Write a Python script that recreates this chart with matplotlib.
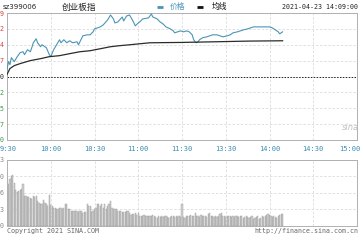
import matplotlib.pyplot as plt
from matplotlib.lines import Line2D
from matplotlib.transforms import ScaledTranslation

# minute index on the x axis: 0 = 09:30, 120 = 11:30 / 13:00, 240 = 15:00
price_min = [0, 1, 2, 3, 5, 7, 9, 11, 12, 14, 16, 17, 18, 20, 21, 23, 24, 27, 29, 30,
             32, 34, 36, 37, 39, 41, 43, 45, 48, 49, 50, 52, 55, 57, 59, 60, 62, 64, 66, 69,
             71, 73, 74, 76, 79, 80, 82, 84, 86, 88, 90, 91, 93, 97, 99, 100, 103, 105, 107, 109,
             112, 114, 115, 117, 119, 121, 123, 125, 127, 128, 129, 130, 131, 132, 134, 137, 139, 141, 144, 146,
             148, 151, 153, 155, 158, 160, 162, 165, 167, 169, 171, 180, 182, 184, 186, 187, 188, 189]
price_val = [2888.9, 2900.8, 2896.3, 2906.7, 2900.8, 2908.2, 2914.2, 2915.6, 2911.2, 2918.6,
             2915.6, 2921.6, 2929.0, 2935.0, 2929.0, 2923.1, 2926.0, 2921.6, 2911.2, 2908.2,
             2918.6, 2926.0, 2933.5, 2929.0, 2933.5, 2929.0, 2932.0, 2929.0, 2930.5, 2926.0,
             2930.5, 2939.4, 2940.9, 2940.9, 2945.4, 2949.8, 2951.3, 2952.8, 2955.8, 2963.2,
             2970.6, 2964.7, 2958.7, 2960.2, 2967.6, 2961.7, 2969.1, 2970.6, 2963.2, 2954.3,
             2958.7, 2960.2, 2964.7, 2966.2, 2972.1, 2967.6, 2964.7, 2960.2, 2957.2, 2952.8,
             2949.8, 2946.8, 2943.9, 2945.4, 2946.8, 2945.4, 2946.8, 2945.4, 2940.9, 2933.5,
             2930.5, 2929.0, 2930.5, 2933.5, 2936.4, 2937.9, 2939.4, 2940.9, 2940.9, 2939.4,
             2937.9, 2939.4, 2940.9, 2943.9, 2945.4, 2946.8, 2948.3, 2949.8, 2951.3, 2952.8,
             2952.8, 2952.8, 2951.3, 2948.3, 2945.4, 2942.4, 2943.9, 2945.4]

avg_min = [0, 2, 5, 9, 16, 23, 29, 36, 43, 50, 57, 64, 71, 77, 84, 91, 98, 119, 143, 165, 189]
avg_val = [2881.5, 2890.4, 2894.8, 2897.8, 2902.3, 2905.2, 2908.2, 2909.7, 2912.7, 2915.6,
           2917.1, 2920.1, 2923.1, 2924.6, 2926.0, 2927.5, 2929.0, 2929.5, 2930.5, 2931.5, 2932.0]

vol_am = [78, 84, 95, 100, 102, 87, 72, 68, 70, 72, 74, 84, 60, 59, 58, 57, 55, 53, 60, 58,
          60, 50, 46, 43, 43, 52, 46, 43, 40, 61, 42, 40, 36, 36, 34, 34, 36, 35, 33, 36,
          43, 43, 33, 33, 29, 30, 29, 29, 29, 27, 29, 29, 26, 28, 27, 43, 40, 40, 27, 29,
          33, 36, 43, 43, 40, 43, 36, 43, 33, 40, 44, 50, 36, 34, 33, 34, 29, 29, 29, 28,
          27, 27, 29, 29, 26, 22, 23, 24, 26, 22, 26, 19, 20, 20, 21, 20, 20, 20, 19, 20,
          22, 19, 18, 16, 19, 18, 20, 18, 19, 20, 18, 16, 18, 19, 20, 18, 19, 18, 19, 18]
vol_pm = [43, 18, 16, 20, 19, 20, 22, 19, 20, 26, 19, 20, 18, 22, 20, 19, 20, 18, 24, 25,
          19, 19, 18, 19, 18, 20, 24, 26, 20, 19, 18, 20, 19, 20, 18, 19, 18, 20, 19, 18,
          20, 19, 16, 18, 20, 18, 16, 18, 19, 13, 16, 18, 20, 14, 16, 19, 18, 20, 22, 24,
          22, 19, 18, 20, 17, 16, 19, 21, 23, 24]

prev_close = 2878.50
price_step = 23.772
# only the last digit of each price label is inside the picture
price_labels = ["9", "2", "4", "7", "0", "2", "5", "7", "0"]
time_labels = ["9:30", "10:00", "10:30", "11:00", "11:30", "13:30", "14:00", "14:30", "15:00"]
vol_top = 133
vol_labels = ["3", "0", "6", "3", "0"]

BLUE = "#4a95b5"
GRID = "#dcdcdc"
FRAME = "#b0b0b0"
MONO = "DejaVu Sans Mono"
CJK = ["Noto Sans CJK SC", "DejaVu Sans"]

fig = plt.figure(figsize=(3.6, 2.4), dpi=100)
W, H = 360.0, 240.0
ax = fig.add_axes([7 / W, 1 - 140 / H, 350 / W, 127 / H])
axv = fig.add_axes([7 / W, 1 - 225.5 / H, 350 / W, 65.5 / H])

xt = list(range(0, 241, 30))

# price panel
ax.plot(price_min, price_val, color=BLUE, lw=0.8, zorder=3)
ax.plot(avg_min, avg_val, color="#2b2b2b", lw=0.9, zorder=3)
ax.axhline(prev_close, color="#222222", lw=0.7, ls=(0, (1.5, 1.5)), zorder=2)
ax.set_xlim(0, 240)
ax.set_ylim(prev_close - 4 * price_step, prev_close + 4 * price_step)
yt = [prev_close + k * price_step for k in range(4, -5, -1)]
ax.set_yticks(yt)
ax.set_yticklabels(price_labels, fontsize=4.8, family=MONO)
for i, lab in enumerate(ax.get_yticklabels()):
    lab.set_color("#d9463e" if i < 4 else ("#222222" if i == 4 else "#3f9a4a"))
ax.set_xticks(xt)
ax.set_xticklabels(time_labels, fontsize=5, family=MONO, color="#3a8db0")
ax.tick_params(axis="y", length=0, pad=2.2)
ax.tick_params(axis="x", length=0, pad=4)
xl = ax.get_xticklabels()
xl[0].set_ha("left")
xl[0].set_transform(xl[0].get_transform() + ScaledTranslation(-0.07, 0, fig.dpi_scale_trans))
xl[-1].set_ha("right")
xl[-1].set_transform(xl[-1].get_transform() + ScaledTranslation(0.03, 0, fig.dpi_scale_trans))
ax.grid(True, color=GRID, lw=0.6, ls=(0, (3, 2)))
for s in ax.spines.values():
    s.set_color(FRAME)
    s.set_linewidth(0.7)

# volume panel
axv.bar(range(len(vol_am)), vol_am, width=0.85, color="#d0d0d0", edgecolor="#9c9c9c", linewidth=0.3)
axv.bar(range(120, 120 + len(vol_pm)), vol_pm, width=0.85, color="#d0d0d0", edgecolor="#9c9c9c", linewidth=0.3)
axv.set_xlim(0, 240)
axv.set_ylim(0, vol_top)
axv.set_yticks([vol_top * k / 4 for k in range(4, -1, -1)])
axv.set_yticklabels(vol_labels, fontsize=4.8, family=MONO, color="#8a8a8a")
axv.set_xticks(xt)
axv.set_xticklabels([])
axv.tick_params(length=0, pad=2.2)
axv.grid(True, color=GRID, lw=0.6, ls=(0, (3, 2)))
axv.set_axisbelow(True)
for s in axv.spines.values():
    s.set_color(FRAME)
    s.set_linewidth(0.7)

# header: title, legend keys, timestamp
fig.text(3 / W, 1 - 7 / H, "sz399006", fontsize=5, color="#222222", va="center")
fig.text(62 / W, 1 - 7.5 / H, "创业板指", fontsize=6.2, family=CJK, color="#222222", va="center")
fig.add_artist(Line2D([157 / W, 163 / W], [1 - 7 / H, 1 - 7 / H], color=BLUE, lw=2, solid_capstyle="butt"))
fig.text(170 / W, 1 - 7 / H, "价格", fontsize=5.6, family=CJK, color=BLUE, va="center")
fig.add_artist(Line2D([197 / W, 203 / W], [1 - 7 / H, 1 - 7 / H], color="#111111", lw=2, solid_capstyle="butt"))
fig.text(212 / W, 1 - 7 / H, "均线", fontsize=5.6, family=CJK, color="#111111", va="center")
fig.text(358 / W, 1 - 7 / H, "2021-04-23 14:09:00", fontsize=4.8, family=MONO, color="#222222",
         va="center", ha="right")

# footer and watermark
fig.text(7 / W, 1 - 231.5 / H, "Copyright 2021 SINA.COM", fontsize=4.8, family=MONO,
         color="#666666", va="center")
fig.text(358 / W, 1 - 231.5 / H, "http://finance.sina.com.cn", fontsize=4.8, family=MONO,
         color="#666666", va="center", ha="right")
fig.text(350 / W, 1 - 128 / H, "sina", fontsize=6, style="italic", color="#c0c0c0",
         va="center", ha="center")

fig.savefig("out.png", dpi=100)
